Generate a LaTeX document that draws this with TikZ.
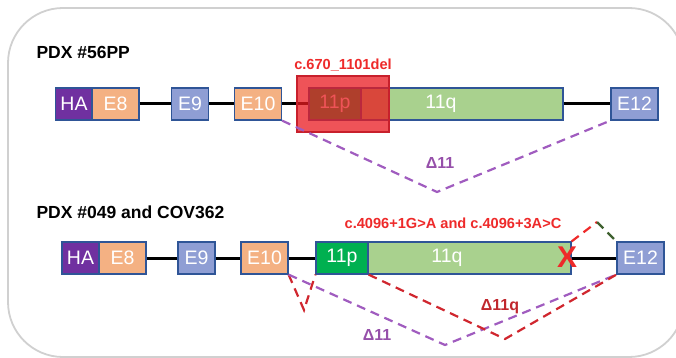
\documentclass[tikz,border=0pt]{standalone}
\usepackage{fontspec}
\setmainfont{Liberation Sans}

\definecolor{hapurple}{HTML}{7030A0}
\definecolor{exorange}{HTML}{F4B183}
\definecolor{exblue}{HTML}{8F9ED4}
\definecolor{exborder}{HTML}{2F5597}
\definecolor{pgreen}{HTML}{00B050}
\definecolor{qgreen}{HTML}{A9D18E}
\definecolor{delred}{HTML}{EA1A20}
\definecolor{delborder}{HTML}{C8202C}
\definecolor{mutred}{HTML}{EE2A2A}
\definecolor{dashpurple}{HTML}{A05CBF}
\definecolor{labpurple}{HTML}{9650AA}
\definecolor{dashred}{HTML}{D0262E}
\definecolor{labred}{HTML}{C0272D}
\definecolor{dashgreen}{HTML}{3F6130}
\definecolor{framegray}{HTML}{D0D0D0}

\tikzset{
	exon/.style={draw=exborder, line width=1.2pt, minimum height=32pt, inner sep=0pt,
		text=white, font=\fontsize{19.5}{21}\selectfont},
	exsmall/.style={exon, minimum width=37pt},
	exbig/.style={exon, minimum width=47pt},
	intron/.style={line width=3pt, black},
	skip/.style={line width=2.2pt, dash pattern=on 9pt off 6pt},
	title/.style={font=\bfseries\fontsize{17.5}{20}\selectfont, anchor=west},
	mutlabel/.style={font=\bfseries\fontsize{14.6}{17}\selectfont, text=mutred},
	dlabel/.style={font=\bfseries\fontsize{16}{18}\selectfont}
}

\begin{document}
\begin{tikzpicture}[x=1pt, y=-1pt]
		\useasboundingbox (0,0) rectangle (676,358);
		\clip (0,0) rectangle (676,358);
		\draw[framegray, line width=1.8pt, rounded corners=55pt] (8,8) rectangle (684,357);
		
		% PDX #56PP
		\node[title] (t1) at (33,52) {PDX \#56PP};
		
		\node[exsmall, fill=hapurple] (HAa) at (74,104) {HA};
		\node[exbig, fill=exorange] (E8a) at (115.5,104) {E8};
		\node[exsmall, fill=exblue] (E9a) at (190,104) {E9};
		\node[exbig, fill=exorange] (E10a) at (258,104) {E10};
		\node[exon, fill=pgreen, minimum width=52pt] (pa) at (335,104) {11p};
		\node[exon, fill=qgreen, minimum width=202pt] (qa) at (462,104) {};
		\node[exon, draw=none] (tqa) at (441,104) {11q};
		\node[exbig, fill=exblue] (E12a) at (634.5,104) {E12};
		
		\draw[intron] (E8a) -- (E9a);
		\draw[intron] (E9a) -- (E10a);
		\draw[intron] (E10a) -- (pa);
		\draw[intron] (qa) -- (E12a);
		
		\node[fill=delred, fill opacity=0.75, draw=delborder, line width=1.5pt,
			minimum width=92pt, minimum height=56pt] (dela) at (343,104) {};
		\node[mutlabel] (ma) at (343,65) {c.670\_1101del};
		
		\coordinate (va) at (437,192);
		\draw[skip, dashpurple] (E10a.south east) -- (va) -- (E12a.south west);
		\node[dlabel, text=labpurple] (da) at (440,163) {Δ11};
		
		% PDX #049 and COV362
		\node[title] (t2) at (33,212) {PDX \#049 and COV362};
		
		\node[exsmall, fill=hapurple] (HAb) at (80.5,258) {HA};
		\node[exbig, fill=exorange] (E8b) at (122.5,258) {E8};
		\node[exsmall, fill=exblue] (E9b) at (196.5,258) {E9};
		\node[exbig, fill=exorange] (E10b) at (264.5,258) {E10};
		\node[exon, fill=pgreen, minimum width=52pt] (pb) at (342,258) {11p};
		\node[exon, fill=qgreen, minimum width=203pt] (qb) at (469.5,258) {};
		\node[exon, draw=none] (tqb) at (447,258) {11q};
		\node[exbig, fill=exblue] (E12b) at (640.5,258) {E12};
		
		\draw[intron] (E8b) -- (E9b);
		\draw[intron] (E9b) -- (E10b);
		\draw[intron] (E10b) -- (pb);
		\draw[intron] (qb) -- (E12b);
		
		\node[text=mutred, font=\bfseries\fontsize{30}{30}\selectfont, inner sep=0pt] (X) at (567,257) {X};
		\node[mutlabel] (mb) at (453,223) {c.4096+1G>A and c.4096+3A>C};
		
		\coordinate (vb) at (304,310);
		\coordinate (vc) at (445,345);
		\coordinate (vd) at (505,339);
		\coordinate (ve) at (597,222);
		\draw[skip, dashred] (E10b.south east) -- (vb) -- (pb.south west);
		\draw[skip, dashpurple] (E10b.south east) -- (vc) -- (E12b.south west);
		\draw[skip, dashred] (pb.south east) -- (vd) -- (E12b.south west);
		\draw[skip, mutred] (qb.north east) -- (ve);
		\draw[skip, dashgreen] (ve) -- (E12b.north west);
		
		\node[dlabel, text=labred] (dq) at (500,307) {Δ11q};
		\node[dlabel, text=labpurple] (db) at (377,335) {Δ11};
		
	\end{tikzpicture}
\end{document}
